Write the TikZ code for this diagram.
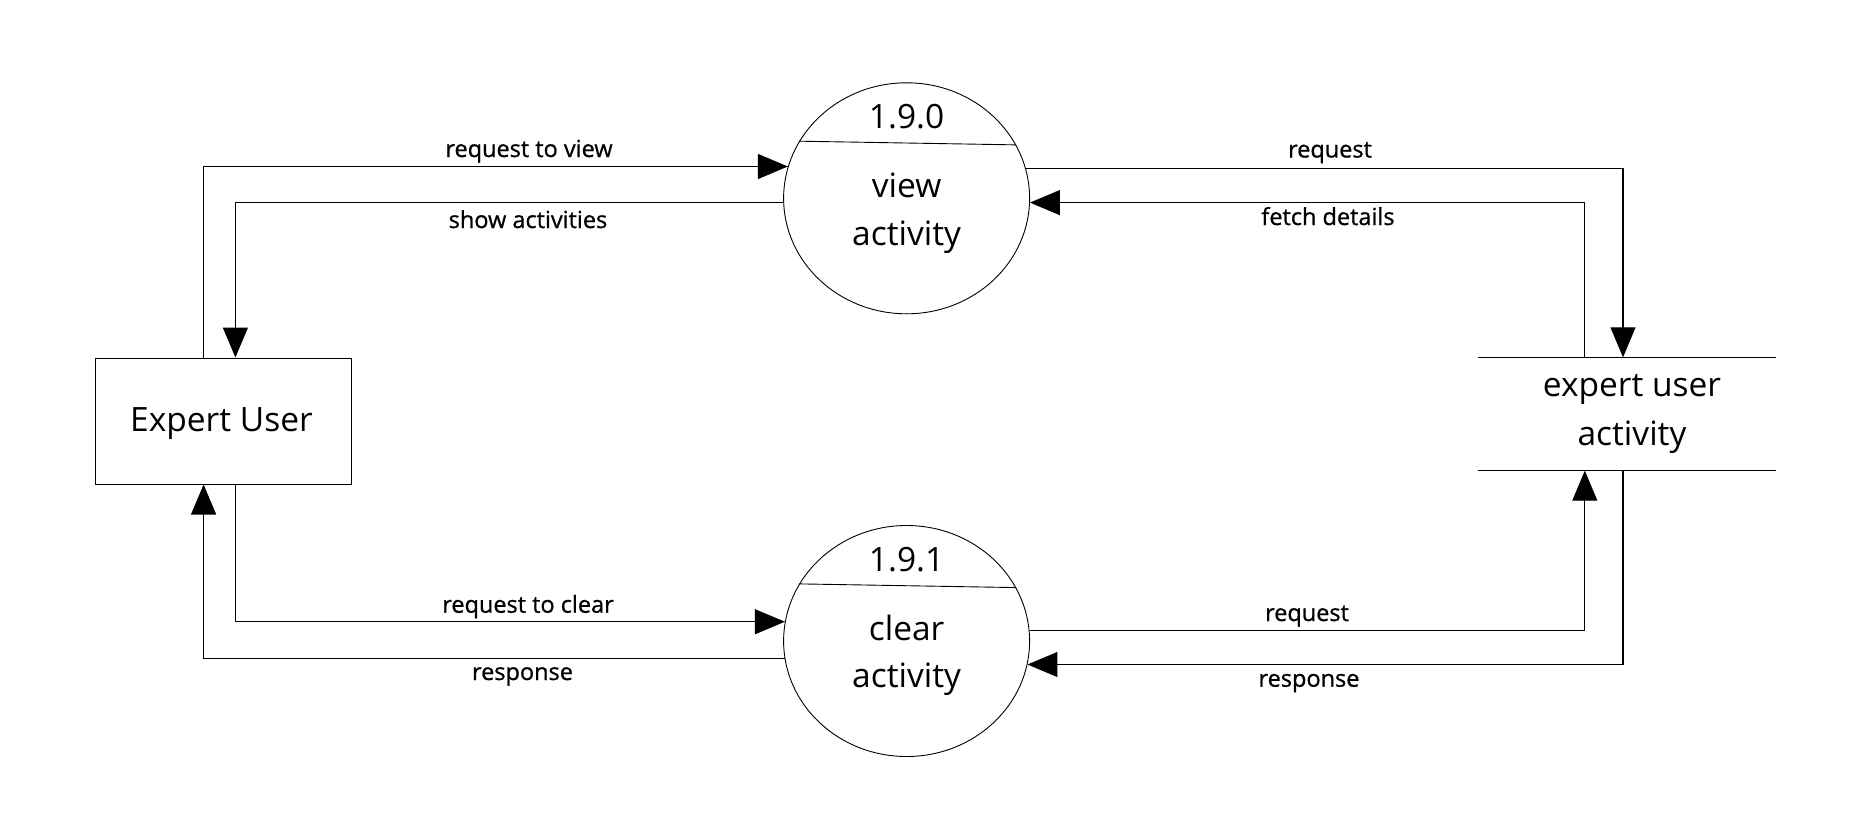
\documentclass[tikz,border=0pt]{standalone}
\usepackage{fontspec}
\setmainfont{Open Sans}
\newfontfamily\lblfont[FakeBold=0.8]{Open Sans}
\usetikzlibrary{arrows.meta,shapes.geometric}
\begin{document}
\begin{tikzpicture}[x=1pt,y=-1pt,
  proc/.style={ellipse, draw, line width=0.9pt, minimum width=246pt, minimum height=231pt, inner sep=0pt},
  entity/.style={rectangle, draw, line width=1pt, minimum width=256pt, minimum height=126pt, inner sep=0pt},
  store/.style={rectangle, minimum width=298pt, minimum height=113pt, inner sep=0pt},
  big/.style={font=\fontsize{33.5}{40}\selectfont, anchor=base, inner sep=0pt},
  lbl/.style={font=\lblfont\fontsize{23.5}{28}\selectfont, anchor=base, inner sep=0pt},
  flow/.style={line width=1.1pt, -{Triangle[length=30pt,width=25pt]}},
  thinline/.style={line width=0.9pt}
]
\useasboundingbox (0,0) rectangle (1869,836);
\fill[white] (0,0) rectangle (1869,836);

% external entity
\node[entity] (eu) at (223.6,421) {};
\node[big] (eut) at (221.5,431.5) {Expert User};

% processes
\node[proc] (p0) at (906.6,198.3) {};
\node[proc] (p1) at (906.6,641) {};
\draw[thinline] (p0.152.3) -- (p0.26.4);
\draw[thinline] (p1.152.7) -- (p1.26.4);
\node[big] (n0) at (906.6,128.3) {1.9.0};
\node[big] (n0a) at (906.6,197.3) {view};
\node[big] (n0b) at (906.6,245) {activity};
\node[big] (n1) at (906.6,571.7) {1.9.1};
\node[big] (n1a) at (906.6,640) {clear};
\node[big] (n1b) at (906.6,687.5) {activity};

% data store
\node[store] (st) at (1627,414) {};
\draw[thinline] (st.north west) -- (st.north east);
\draw[thinline] (st.south west) -- (st.south east);
\node[big] (sta) at (1632,396.7) {expert user};
\node[big] (stb) at (1632,445) {activity};

% flows
\draw[flow] ([xshift=-20pt]eu.north) |- (p0.165.2);
\draw[flow] (p0.182.4) -| ([xshift=11.8pt]eu.north);
\draw[flow] (p0.14.8) -| ([xshift=-4pt]st.north);
\draw[flow] ([xshift=-42.2pt]st.north) |- (p0.358.5);
\draw[flow] ([xshift=11.8pt]eu.south) |- (p1.171.3);
\draw[flow] (p1.188.2) -| ([xshift=-20pt]eu.south);
\draw[flow] (p1.5.4) -| ([xshift=-42.2pt]st.south);
\draw[flow] ([xshift=-4pt]st.south) |- (p1.349.2);

% labels
\node[lbl] (l1) at (529,157) {request to view};
\node[lbl] (l2) at (528,228) {show activities};
\node[lbl] (l3) at (1330,157.5) {request};
\node[lbl] (l4) at (1328,225) {fetch details};
\node[lbl] (l5) at (528,612.7) {request to clear};
\node[lbl] (l6) at (522.5,680) {response};
\node[lbl] (l7) at (1307,621) {request};
\node[lbl] (l8) at (1309,686.7) {response};
\end{tikzpicture}
\end{document}
